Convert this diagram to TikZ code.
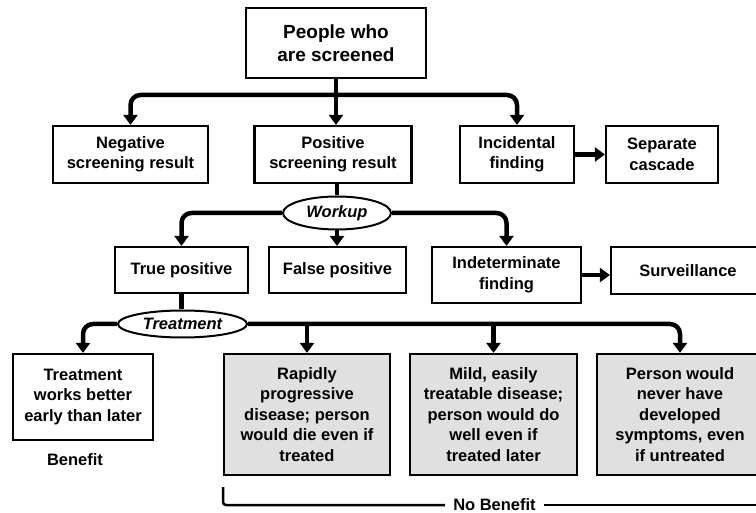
\documentclass[tikz,border=0pt]{standalone}
\usepackage{fontspec}
\setmainfont{Liberation Sans}
\usepackage{tikz}
\usetikzlibrary{arrows.meta}
\usetikzlibrary{shapes.geometric}
\definecolor{boxgray}{RGB}{224,224,224}

\begin{document}
\begin{tikzpicture}[x=1pt,y=-1pt]
	\useasboundingbox (0,0) rectangle (756,513);
				\begin{scope}[every node/.style = {rectangle, draw, line width=2.2pt, align=center, inner sep=0pt,
						font = \bfseries\fontsize{16.5}{20.5}\selectfont}]
					\node[minimum width=180pt, minimum height=70pt, font=\bfseries\fontsize{19}{23}\selectfont] (top) at (336,43) {People who\\are screened};
					\node[minimum width=155pt, minimum height=57pt] (neg) at (130.5,154.5) {Negative\\screening result};
					\node[minimum width=157pt, minimum height=57pt] (pos) at (333,154.5) {Positive\\screening result};
					\node[minimum width=114pt, minimum height=57pt] (inc) at (517,154.5) {Incidental\\finding};
					\node[minimum width=112pt, minimum height=57pt] (sep) at (662,154.5) {Separate\\cascade};
					\node[minimum width=133pt, minimum height=46pt] (tp) at (181.5,270) {True positive};
					\node[minimum width=137pt, minimum height=46pt] (fp) at (337.5,270) {False positive};
					\node[minimum width=149pt, minimum height=56pt] (ind) at (506.5,275) {Indeterminate\\finding};
					\node[minimum width=154pt, minimum height=47pt] (surv) at (688,270.5) {Surveillance};
					\node[minimum width=140pt, minimum height=86pt] (ben) at (83,397) {Treatment\\works better\\early than later};
					\node[minimum width=166pt, minimum height=121pt, fill=boxgray] (rap) at (307,414.5) {Rapidly\\progressive\\disease; person\\would die even if\\treated};
					\node[minimum width=167pt, minimum height=121pt, fill=boxgray] (mild) at (493.5,414.5) {Mild, easily\\treatable disease;\\person would do\\well even if\\treated later};
					\node[minimum width=166pt, minimum height=121pt, fill=boxgray] (pno) at (680,414.5) {Person would\\never have\\developed\\symptoms, even\\if untreated};
				\end{scope}
				\begin{scope}[every node/.style = {ellipse, draw, line width=2pt, inner sep=0pt,
						font = \bfseries\itshape\fontsize{16.5}{20}\selectfont}]
					\node[minimum width=108pt, minimum height=33pt] (work) at (337,213) {Workup};
					\node[minimum width=129pt, minimum height=27pt] (treat) at (182.5,324) {Treatment};
				\end{scope}
					\node[font=\bfseries\fontsize{16.5}{20}\selectfont] (bentxt) at (75,460) {Benefit};
					\node[font=\bfseries\fontsize{16.5}{20}\selectfont, inner xsep=8pt] (nob) at (494.5,505) {No Benefit};
					\coordinate (j1) at (336,95);
					\coordinate (nbl) at (223,487);
					\coordinate (nbr) at (760,505);
				\begin{scope}[>={Triangle[length=10pt, width=14pt]}, line width=4.5pt, rounded corners=10pt,
						every edge/.style={draw=black, line width=4.5pt}]
					\draw [->] (top.south) -- (top.south |- pos.north);
					\draw [->] (j1) -| (neg.north);
					\draw [->] (j1) -| (inc.north);
					\path [->] (inc) edge (sep);
					\path [-] (pos.south -| work.north) edge (work.north);
					\draw [->] (work.south) -- (work.south |- fp.north);
					\draw [->] (work.west) -| (tp.north);
					\draw [->] (work.east) -| (ind.north);
					\draw [->] (ind.east) -- (ind.east -| surv.west);
					\path [-] (tp.south) edge (tp.south |- treat.north);
					\draw [->] (treat.west) -| (ben.north);
					\draw [->] (treat.east) -| (pno.north);
					\draw [->] (treat.east -| rap.north) -- (rap.north);
					\draw [->] (treat.east -| mild.north) -- (mild.north);
				\end{scope}
				\begin{scope}[line width=2.5pt]
					\draw [rounded corners=3pt] (nbl) |- (nob.west);
					\draw (nob.east) -- (nbr);
				\end{scope}
\end{tikzpicture}
\end{document}
